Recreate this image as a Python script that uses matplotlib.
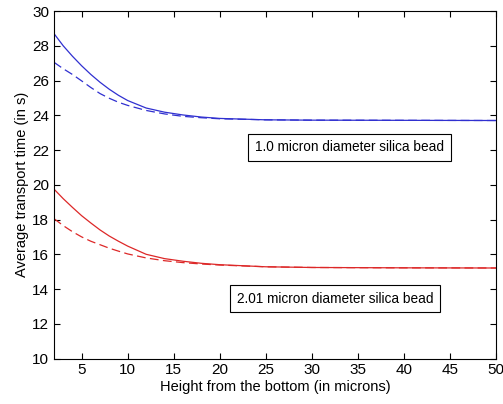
import matplotlib
matplotlib.use("Agg")
import matplotlib.pyplot as plt

plt.rcParams["font.family"] = ["Liberation Sans", "DejaVu Sans"]

# Height from the bottom (microns)
height = [2, 3, 4, 5, 6, 7, 8, 9, 10, 12, 14, 16, 18, 20, 25, 30, 40, 50]

# 1.0 micron bead
small_solid = [28.7, 28.0, 27.4, 26.85, 26.35, 25.9, 25.5, 25.15, 24.85, 24.42,
               24.18, 24.02, 23.9, 23.82, 23.74, 23.72, 23.71, 23.70]
small_dashed = [27.05, 26.68, 26.35, 25.98, 25.6, 25.25, 24.98, 24.75, 24.57, 24.28,
                24.08, 23.94, 23.86, 23.8, 23.74, 23.72, 23.71, 23.70]

# 2.01 micron bead
large_solid = [19.75, 19.2, 18.7, 18.22, 17.8, 17.4, 17.05, 16.75, 16.47, 16.0,
               15.75, 15.6, 15.48, 15.4, 15.28, 15.24, 15.22, 15.21]
large_dashed = [18.05, 17.65, 17.3, 17.0, 16.75, 16.55, 16.35, 16.18, 16.02, 15.79,
                15.63, 15.52, 15.44, 15.38, 15.28, 15.24, 15.22, 15.21]

fig = plt.figure(figsize=(5.03, 4.04), dpi=100)
ax = fig.add_axes([0.1074, 0.1126, 0.8787, 0.860])

blue = "#3030d0"
red = "#dd2828"
ax.plot(height, small_solid, color=blue, linewidth=0.9)
ax.plot(height, small_dashed, color=blue, linewidth=0.9, dashes=(7, 3.5))
ax.plot(height, large_solid, color=red, linewidth=0.9)
ax.plot(height, large_dashed, color=red, linewidth=0.9, dashes=(7, 3.5))

ax.set_xlim(2, 50)
ax.set_ylim(10, 30)
ax.set_xticks(range(5, 51, 5))
ax.set_yticks(range(10, 31, 2))
ax.tick_params(direction="in", top=True, right=True, labelsize=11, length=4, width=0.8)
for s in ax.spines.values():
    s.set_linewidth(0.8)

ax.set_xlabel("Height from the bottom (in microns)", fontsize=10.5, labelpad=2)
ax.set_ylabel("Average transport time (in s)", fontsize=10.5, labelpad=2)

box = dict(boxstyle="square,pad=0.5", facecolor="white", edgecolor="black", linewidth=0.8)
ax.text(34.1, 22.15, "1.0 micron diameter silica bead", fontsize=9.8,
        ha="center", va="center", bbox=box)
ax.text(32.5, 13.45, "2.01 micron diameter silica bead", fontsize=9.8,
        ha="center", va="center", bbox=box)

fig.savefig("out.png", dpi=100)
